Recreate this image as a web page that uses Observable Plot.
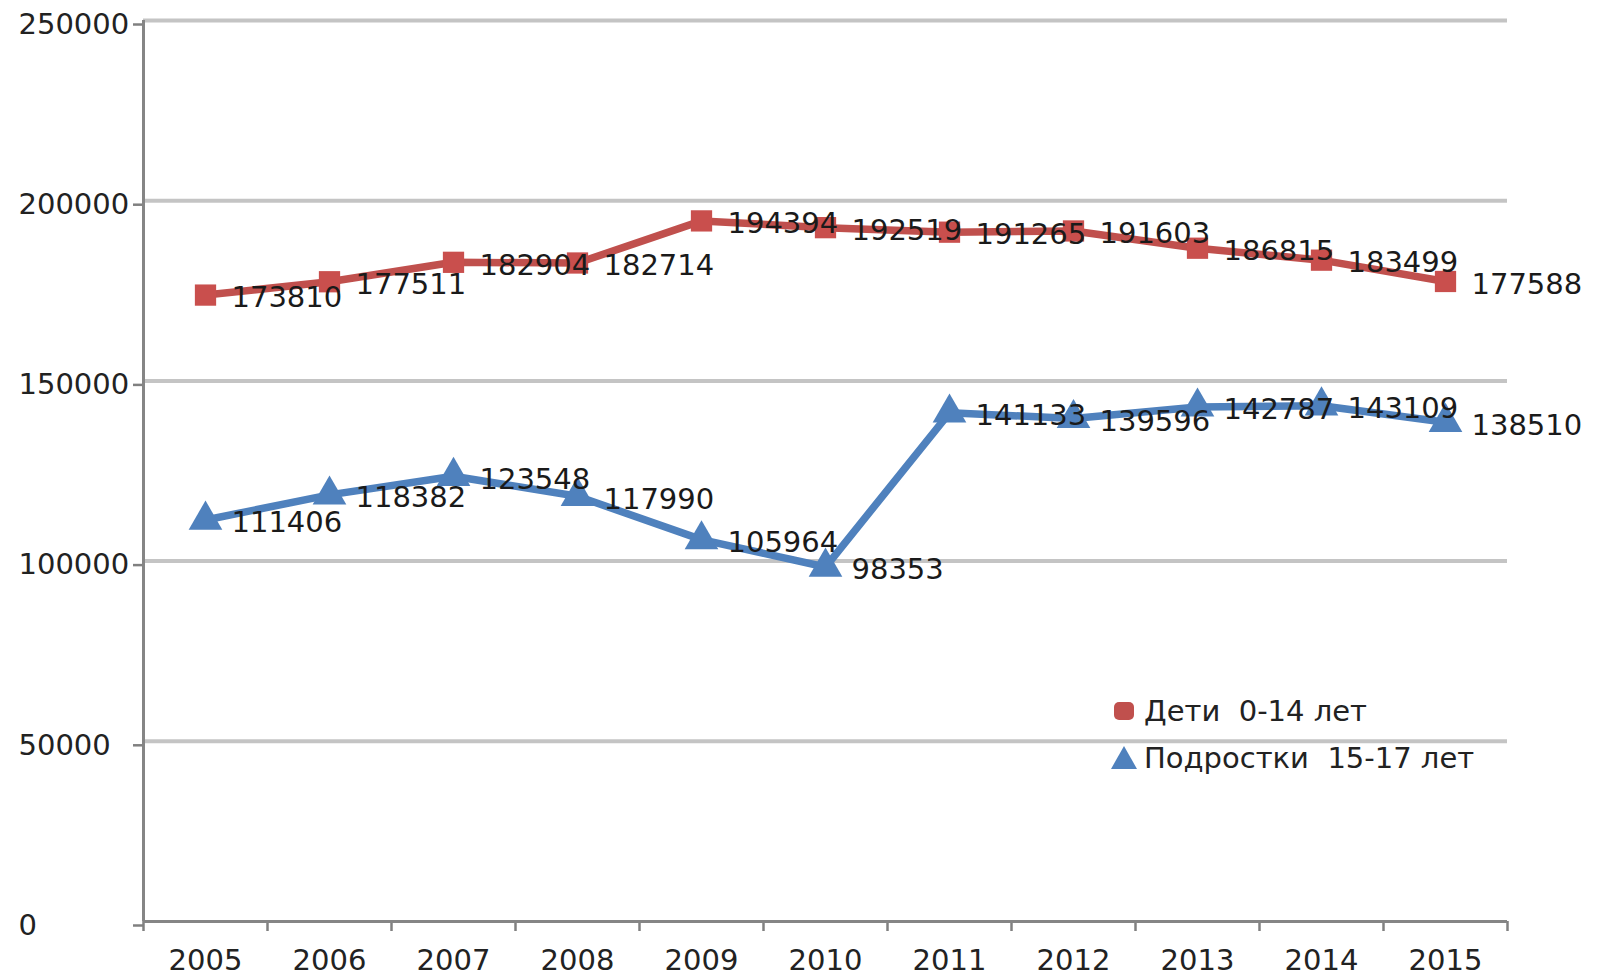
<!DOCTYPE html>
<html>
<head>
<meta charset="utf-8">
<script src="https://cdn.jsdelivr.net/npm/d3@7"></script>
<script src="https://cdn.jsdelivr.net/npm/@observablehq/plot@0.6"></script>
<style>
  html, body { margin: 0; padding: 0; background: #fff; }
  #wrap { position: relative; width: 1602px; height: 976px; }
  #legend { position: absolute; left: 1110px; top: 687px; font-family: "DejaVu Sans", sans-serif; font-size: 29px; color: #222; }
  .row { display: flex; align-items: center; height: 47px; white-space: pre; }
  .row svg { margin-right: 6px; }
</style>
</head>
<body>
<div id="wrap"><div id="legend"></div></div>
<script>
const years = [2005, 2006, 2007, 2008, 2009, 2010, 2011, 2012, 2013, 2014, 2015];
const children = [173810, 177511, 182904, 182714, 194394, 192519, 191265, 191603, 186815, 183499, 177588];
const teens = [111406, 118382, 123548, 117990, 105964, 98353, 141133, 139596, 142787, 143109, 138510];
const yTicks = [0, 50000, 100000, 150000, 200000, 250000];
const seriesNames = ["Дети  0-14 лет", "Подростки  15-17 лет"];
const colors = ["#c0504d", "#4f81bd"];

const childRows = years.map((y, i) => ({year: y, value: children[i]}));
const teenRows = years.map((y, i) => ({year: y, value: teens[i]}));
const xMin = years[0] - 0.5, xMax = years[years.length - 1] + 0.5;
const boundaries = years.map(y => y - 0.5).concat([xMax]);

const chart = Plot.plot({
  width: 1602, height: 976,
  marginLeft: 143, marginRight: 95, marginTop: 20, marginBottom: 55,
  style: {fontFamily: "DejaVu Sans, sans-serif", fontSize: "29px", color: "#222", background: "#fff"},
  x: {type: "linear", domain: [xMin, xMax]},
  y: {domain: [yTicks[0], yTicks[yTicks.length - 1]]},
  marks: [
    Plot.ruleY(yTicks.slice(1), {stroke: "#c4c4c4", strokeWidth: 4}),
    Plot.axisY({ticks: yTicks, tickSize: 10, tickPadding: 115, textAnchor: "start", dy: 4, tickFormat: d => String(d), label: null, stroke: "#808080", strokeWidth: 2.5}),
    Plot.axisX({ticks: boundaries, tickSize: 10, tickFormat: () => "", label: null, stroke: "#808080", strokeWidth: 2.5}),
    Plot.axisX({ticks: years, tickSize: 0, tickPadding: 28, tickFormat: d => String(d), label: null}),
    Plot.ruleX([xMin], {stroke: "#858585", strokeWidth: 3}),
    Plot.ruleY([yTicks[0]], {stroke: "#858585", strokeWidth: 3}),
    Plot.line(childRows, {x: "year", y: "value", stroke: colors[0], strokeWidth: 7.5}),
    Plot.dot(childRows, {x: "year", y: "value", symbol: "square", r: 12, fill: "#c94f4d"}),
    Plot.line(teenRows, {x: "year", y: "value", stroke: colors[1], strokeWidth: 7.5}),
    Plot.dot(teenRows, {x: "year", y: "value", symbol: "triangle", r: 12.5, fill: colors[1]}),
    Plot.text(childRows, {x: "year", y: "value", text: d => String(d.value), dx: 26, dy: 3, textAnchor: "start", fill: "#1a1a1a"}),
    Plot.text(teenRows, {x: "year", y: "value", text: d => String(d.value), dx: 26, dy: 3, textAnchor: "start", fill: "#1a1a1a"})
  ]
});
document.getElementById("wrap").prepend(chart);

const legend = document.getElementById("legend");
const shapes = [
  `<svg width="28" height="28"><rect x="4" y="5" width="20" height="18" rx="5" fill="${colors[0]}"/></svg>`,
  `<svg width="28" height="28"><path d="M14 2 L27 25 L1 25 Z" fill="${colors[1]}"/></svg>`
];
seriesNames.forEach((name, i) => {
  const row = document.createElement("div");
  row.className = "row";
  row.innerHTML = shapes[i] + `<span>${name}</span>`;
  legend.appendChild(row);
});
</script>
</body>
</html>
